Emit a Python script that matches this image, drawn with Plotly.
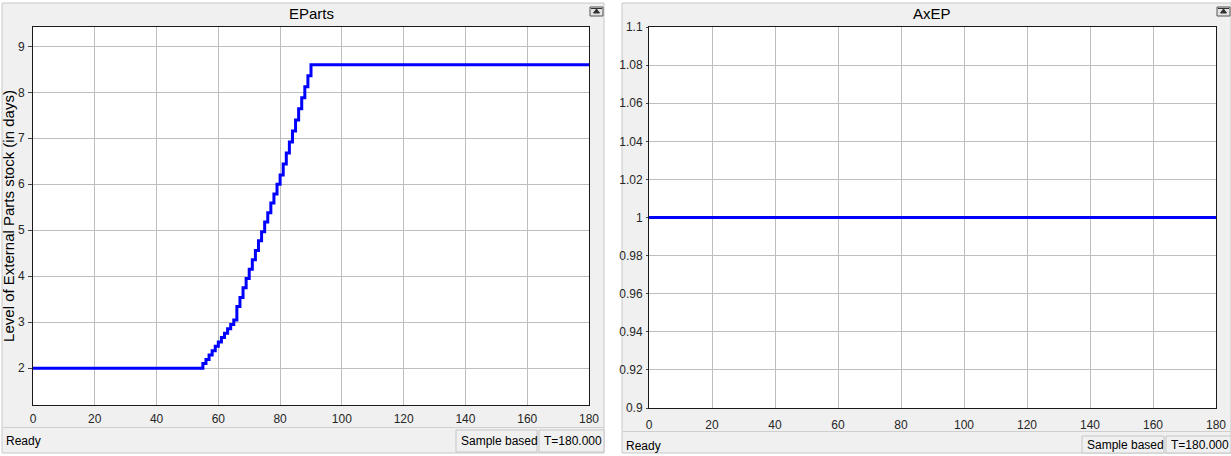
import plotly.graph_objects as go

W, H = 1231, 456

# ---------------- data ----------------
ep_t = [0, 55, 56, 57, 58, 59, 60, 61, 62, 63, 64, 65,
        66, 67, 68, 69, 70, 71, 72, 73, 74, 75, 76, 77, 78, 79, 80,
        81, 82, 83, 84, 85, 86, 87, 88, 89, 90, 180]
ep_v = [2.00, 2.10, 2.19, 2.29, 2.38, 2.48, 2.57, 2.67, 2.76, 2.86, 2.95, 3.05,
        3.34, 3.54, 3.75, 3.95, 4.15, 4.36, 4.56, 4.77, 4.97, 5.18, 5.38, 5.59, 5.79, 6.00, 6.20,
        6.44, 6.68, 6.92, 7.16, 7.40, 7.64, 7.88, 8.12, 8.36, 8.60, 8.60]

axep_t = [0, 180]
axep_v = [1.0, 1.0]

x_ticks = [0, 20, 40, 60, 80, 100, 120, 140, 160, 180]
ep_yticks = [2, 3, 4, 5, 6, 7, 8, 9]
axep_yticks = [0.9, 0.92, 0.94, 0.96, 0.98, 1.0, 1.02, 1.04, 1.06, 1.08, 1.1]
axep_yticklabels = ["0.9", "0.92", "0.94", "0.96", "0.98", "1", "1.02", "1.04", "1.06", "1.08", "1.1"]

titles = ["EParts", "AxEP"]
ylabel_left = "Level of External Parts stock (in days)"

# ---------------- helpers ----------------
def fx(px):
    return px / W

def fy(py):
    return 1 - py / H

FONT = "Liberation Sans, Arial, sans-serif"
TXT = "#262626"
GRID = "#bdbdbd"
WIN = "#f0f0f0"

fig = go.Figure()

fig.add_trace(go.Scatter(x=ep_t, y=ep_v, mode="lines", line=dict(color="#0000ff", width=3, shape="hv"),
                         xaxis="x", yaxis="y", showlegend=False, hoverinfo="skip"))
fig.add_trace(go.Scatter(x=axep_t, y=axep_v, mode="lines", line=dict(color="#0000ff", width=3),
                         xaxis="x2", yaxis="y2", showlegend=False, hoverinfo="skip"))

axis_common = dict(showline=True, linecolor="#1a1a1a", linewidth=1, mirror=True, automargin=False,
                   showgrid=True, gridcolor=GRID, gridwidth=1, zeroline=False,
                   tickfont=dict(family=FONT, size=12, color=TXT), fixedrange=True)

L = dict(x0=33, x1=589, y0=27, y1=405)
R = dict(x0=649, x1=1216, y0=27, y1=408)

fig.update_layout(
    width=W, height=H,
    margin=dict(l=0, r=0, t=0, b=0, autoexpand=False),
    paper_bgcolor="white", plot_bgcolor="white",
    showlegend=False,
    xaxis=dict(domain=[fx(L["x0"]), fx(L["x1"])], range=[0, 180], tickvals=x_ticks,
               ticks="", ticklabelstandoff=3, anchor="y", **axis_common),
    yaxis=dict(domain=[fy(L["y1"]), fy(L["y0"])], range=[1.2, 9.42], tickvals=ep_yticks,
               ticks="outside", ticklen=4, tickcolor="#444444", ticklabelstandoff=1, anchor="x",
               title=dict(text=ylabel_left, font=dict(family=FONT, size=15, color="#000000"), standoff=2),
               **axis_common),
    xaxis2=dict(domain=[fx(R["x0"]), fx(R["x1"])], range=[0, 180], tickvals=x_ticks,
                ticks="", ticklabelstandoff=6, anchor="y2", **axis_common),
    yaxis2=dict(domain=[fy(R["y1"]), fy(R["y0"])], range=[0.9, 1.1], tickvals=axep_yticks,
                ticktext=axep_yticklabels, ticks="outside", ticklen=2, tickcolor="#444444",
                ticklabelstandoff=1, anchor="x2", **axis_common),
)

shapes = []
annotations = []

# window backgrounds
for (wx0, wx1) in [(2, 604), (622, 1231)]:
    shapes.append(dict(type="rect", xref="paper", yref="paper", layer="below",
                       x0=fx(wx0), x1=fx(wx1), y0=fy(453), y1=fy(3),
                       fillcolor=WIN, line=dict(color="#c8c8c8", width=1)))

# white plot areas
for P in (L, R):
    shapes.append(dict(type="rect", xref="paper", yref="paper", layer="below",
                       x0=fx(P["x0"]), x1=fx(P["x1"]), y0=fy(P["y1"]), y1=fy(P["y0"]),
                       fillcolor="white", line=dict(width=0)))

# status separators
shapes.append(dict(type="line", xref="paper", yref="paper", layer="below",
                   x0=fx(3), x1=fx(604), y0=fy(427.5), y1=fy(427.5), line=dict(color="#cfcfcf", width=1)))
shapes.append(dict(type="line", xref="paper", yref="paper", layer="below",
                   x0=fx(623), x1=fx(1231), y0=fy(431.5), y1=fy(431.5), line=dict(color="#cfcfcf", width=1)))

# status boxes
status_boxes = [
    (456, 537, 430, 452, "Sample based"),
    (539, 604, 430, 452, "T=180.000"),
    (1082, 1164, 436, 453, "Sample based"),
    (1166, 1231, 436, 453, "T=180.000"),
]
for (bx0, bx1, by0, by1, txt) in status_boxes:
    shapes.append(dict(type="rect", xref="paper", yref="paper", layer="below",
                       x0=fx(bx0), x1=fx(bx1), y0=fy(by1), y1=fy(by0),
                       fillcolor=WIN, line=dict(color="#c6c6c6", width=1)))
    annotations.append(dict(xref="paper", yref="paper", x=fx(bx0 + 3), y=fy((by0 + by1) / 2),
                            xanchor="left", yanchor="middle", showarrow=False, text=txt,
                            font=dict(family=FONT, size=12, color="#000000")))

# "Ready"
for (rx, ry) in [(4, 441), (624, 446)]:
    annotations.append(dict(xref="paper", yref="paper", x=fx(rx), y=fy(ry), xanchor="left",
                            yanchor="middle", showarrow=False, text="Ready",
                            font=dict(family=FONT, size=12, color="#000000")))

# titles
for (tx, t) in [((L["x0"] + L["x1"]) / 2, titles[0]), ((R["x0"] + R["x1"]) / 2, titles[1])]:
    annotations.append(dict(xref="paper", yref="paper", x=fx(tx), y=fy(14), xanchor="center",
                            yanchor="middle", showarrow=False, text=t,
                            font=dict(family=FONT, size=15, color="#000000")))

# undock icons
for (ix0, ix1) in [(590, 603), (1217, 1230)]:
    shapes.append(dict(type="rect", xref="paper", yref="paper", layer="above",
                       x0=fx(ix0), x1=fx(ix1), y0=fy(16), y1=fy(7),
                       fillcolor="#e4e4e4", line=dict(color="#555555", width=1)))
    cx = (ix0 + ix1) / 2
    shapes.append(dict(type="path", xref="paper", yref="paper", layer="above",
                       path=f"M {fx(cx-3)} {fy(13)} L {fx(cx+3)} {fy(13)} L {fx(cx)} {fy(9)} Z",
                       fillcolor="#333333", line=dict(color="#333333", width=1)))
    shapes.append(dict(type="line", xref="paper", yref="paper", layer="above",
                       x0=fx(ix0 + 1), x1=fx(ix1 - 1), y0=fy(8.5), y1=fy(8.5),
                       line=dict(color="#333333", width=1)))

fig.update_layout(shapes=shapes, annotations=annotations)

fig.write_html("out.html")
